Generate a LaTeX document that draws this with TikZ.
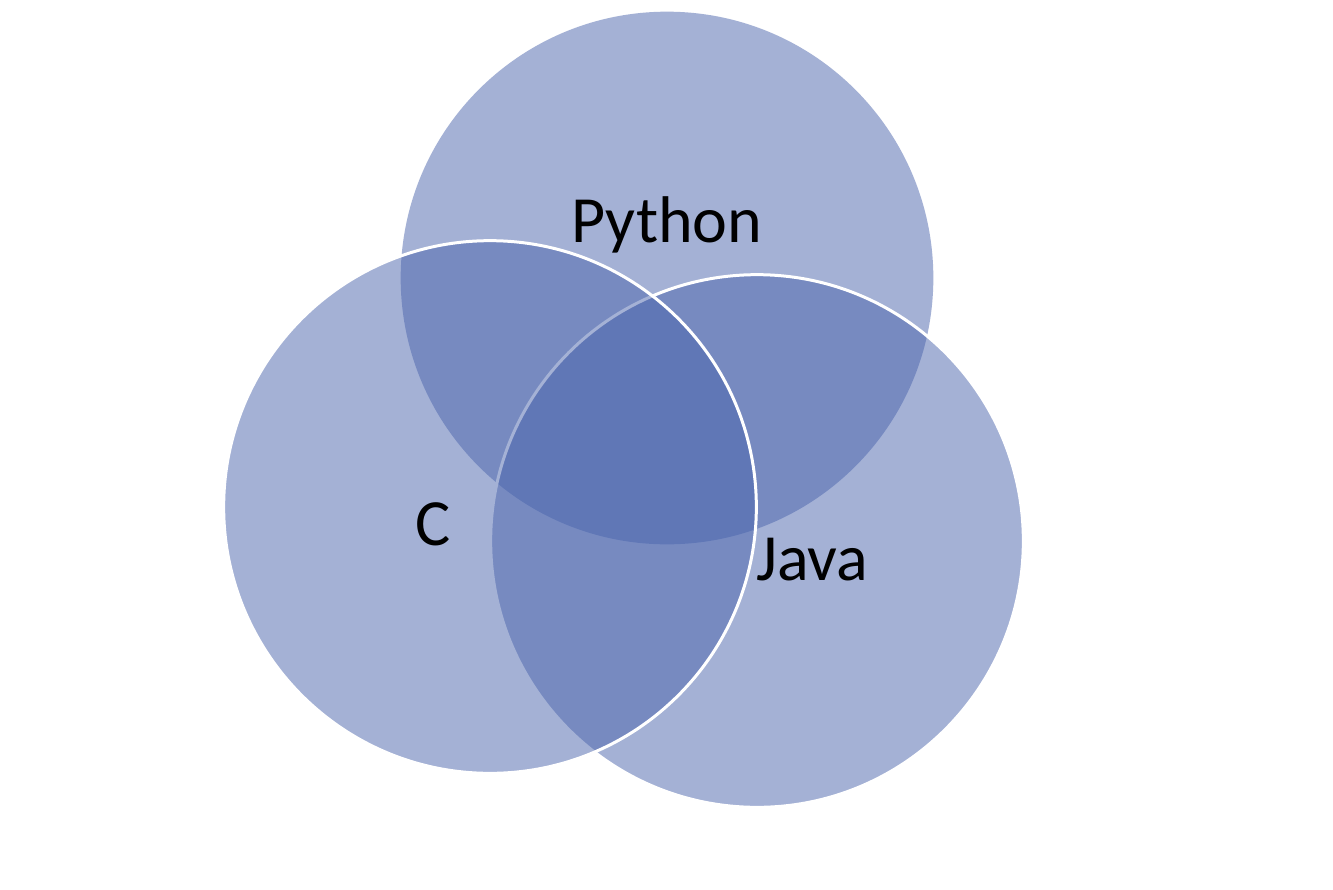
\documentclass[tikz,border=0pt]{standalone}
\usepackage{fontspec}
\setmainfont{Carlito}
\definecolor{vennblue}{RGB}{75,101,173}
\begin{document}
\begin{tikzpicture}[x=0.75pt,y=-0.75pt,
  venn/.style={circle,minimum size=399.5pt,inner sep=0pt,outer sep=0pt,fill=vennblue,fill opacity=0.5},
  vennline/.style={venn,draw=white,draw opacity=1,line width=2.25pt},
  lbl/.style={font=\fontsize{49.5}{58}\selectfont,text=black,inner sep=0pt}]
\useasboundingbox[fill=white] (0,0) rectangle (1333,889);
\node[venn] (python) at (667,278) {};
\node[vennline] (java) at (757,541) {};
\node[vennline] (c) at (490,507) {};
\node[lbl] (tpython) at (667,225) {Python};
\node[lbl] (tc) at (433,524) {C};
\node[lbl] (tjava) at (812,560) {Java};
\end{tikzpicture}
\end{document}
